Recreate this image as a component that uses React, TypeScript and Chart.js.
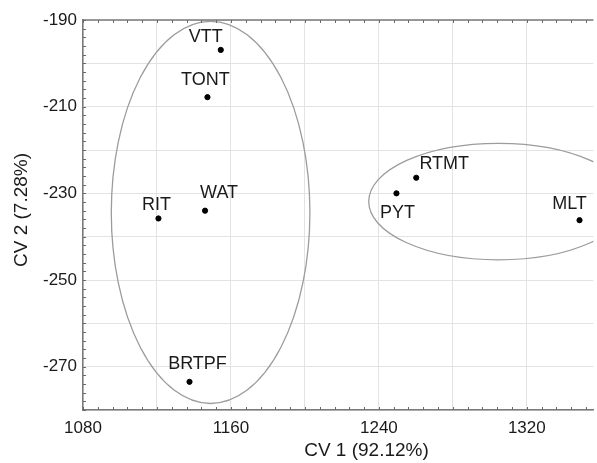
import React, { useEffect, useRef } from "react";
import { Chart, registerables } from "chart.js";

Chart.register(...registerables);

// ---- data ----
const names = ["VTT", "TONT", "WAT", "RIT", "BRTPF", "RTMT", "PYT", "MLT"];
const cv1 = [1154.5, 1147.3, 1146, 1120.8, 1137.6, 1260.2, 1249.5, 1348.5];
const cv2 = [-196.9, -207.8, -234, -235.8, -273.5, -226.4, -230, -236.2];

const xGridValues = [1080, 1120, 1160, 1200, 1240, 1280, 1320];
const xLabelValues = [1080, 1160, 1240, 1320];
const yGridValues = [-280, -270, -260, -250, -240, -230, -220, -210, -200, -190];
const yLabelValues = [-270, -250, -230, -210, -190];

// group ellipses (data units): centre x, centre y, radius x, radius y
const ellipseCX = [1149, 1304.7];
const ellipseCY = [-234.4, -231.9];
const ellipseRX = [53.7, 70.2];
const ellipseRY = [44.1, 13.45];

// ---- styling ----
const labelOffsets: [number, number][] = [
  [-15, -13],
  [-2, -17],
  [14, -18],
  [-2, -13],
  [8, -18],
  [28, -14],
  [1, 20],
  [-10, -16],
];

const FONT = "'Liberation Sans', Arial, sans-serif";

const decorPlugin = {
  id: "decor",
  beforeDatasetsDraw(chart: any) {
    const { ctx, chartArea } = chart;
    const xs = chart.scales.x;
    const ys = chart.scales.y;
    ctx.save();
    ctx.beginPath();
    ctx.rect(chartArea.left, chartArea.top, chartArea.right - chartArea.left, chartArea.bottom - chartArea.top);
    ctx.clip();
    ctx.strokeStyle = "#9c9c9c";
    ctx.lineWidth = 1.3;
    for (let i = 0; i < ellipseCX.length; i++) {
      const cx = xs.getPixelForValue(ellipseCX[i]);
      const cy = ys.getPixelForValue(ellipseCY[i]);
      const rx = Math.abs(xs.getPixelForValue(ellipseCX[i] + ellipseRX[i]) - cx);
      const ry = Math.abs(ys.getPixelForValue(ellipseCY[i] + ellipseRY[i]) - cy);
      ctx.beginPath();
      ctx.ellipse(cx, cy, rx, ry, 0, 0, Math.PI * 2);
      ctx.stroke();
    }
    ctx.restore();
  },
  afterDraw(chart: any) {
    const { ctx, chartArea } = chart;
    const xs = chart.scales.x;
    const ys = chart.scales.y;
    ctx.save();
    // top border
    ctx.strokeStyle = "#7a7a7a";
    ctx.lineWidth = 1.5;
    ctx.beginPath();
    ctx.moveTo(chartArea.left, chartArea.top);
    ctx.lineTo(chartArea.right, chartArea.top);
    ctx.stroke();
    // minor ticks
    ctx.lineWidth = 1;
    ctx.strokeStyle = "#6a6a6a";
    ctx.beginPath();
    for (let v = xs.min; v <= xs.max; v += 8) {
      const px = Math.round(xs.getPixelForValue(v)) + 0.5;
      ctx.moveTo(px, chartArea.bottom);
      ctx.lineTo(px, chartArea.bottom - 3);
      ctx.moveTo(px, chartArea.top);
      ctx.lineTo(px, chartArea.top + 3);
    }
    for (let v = ys.min; v <= ys.max + 0.001; v += 2) {
      const py = Math.round(ys.getPixelForValue(v)) + 0.5;
      ctx.moveTo(chartArea.left, py);
      ctx.lineTo(chartArea.left + 3, py);
    }
    ctx.stroke();

    // point labels
    ctx.fillStyle = "#1a1a1a";
    ctx.font = `18px ${FONT}`;
    ctx.textAlign = "center";
    ctx.textBaseline = "middle";
    for (let i = 0; i < names.length; i++) {
      const px = xs.getPixelForValue(cv1[i]) + labelOffsets[i][0];
      const py = ys.getPixelForValue(cv2[i]) + labelOffsets[i][1];
      ctx.fillText(names[i], px, py);
    }

    // axis titles
    ctx.font = `19px ${FONT}`;
    ctx.fillText("CV 1 (92.12%)", 366.5, 451);
    ctx.translate(22, 210);
    ctx.rotate(-Math.PI / 2);
    ctx.fillText("CV 2 (7.28%)", 0, 0);
    ctx.restore();
  },
};

export default function App() {
  const ref = useRef<HTMLCanvasElement>(null);
  useEffect(() => {
    document.body.style.margin = "0";
    const canvas = ref.current;
    if (!canvas) return;
    const chart = new Chart(canvas, {
      type: "scatter",
      data: {
        datasets: [
          {
            data: cv1.map((x, i) => ({ x, y: cv2[i] })),
            backgroundColor: "#000",
            borderColor: "#000",
            pointRadius: 2.6,
            pointHoverRadius: 2.6,
          },
        ],
      },
      options: {
        responsive: false,
        animation: false,
        events: [],
        layout: { padding: { top: 20, right: 0, left: 0, bottom: 0 } },
        plugins: { legend: { display: false }, tooltip: { enabled: false } },
        scales: {
          x: {
            type: "linear",
            min: 1080,
            max: 1356,
            afterBuildTicks: (s: any) => {
              s.ticks = xGridValues.map((v) => ({ value: v }));
            },
            afterFit: (s: any) => {
              s.height = 53;
            },
            grid: { color: "#e3e3e3", lineWidth: 1, drawTicks: false },
            border: { display: true, color: "#7a7a7a", width: 1.5 },
            ticks: {
              autoSkip: false,
              maxRotation: 0,
              padding: 8,
              color: "#1a1a1a",
              font: { family: FONT, size: 17 },
              callback: (v: any) => (xLabelValues.includes(Number(v)) ? String(v) : ""),
            },
          },
          y: {
            type: "linear",
            min: -280,
            max: -190,
            afterBuildTicks: (s: any) => {
              s.ticks = yGridValues.map((v) => ({ value: v }));
            },
            afterFit: (s: any) => {
              s.width = 83;
            },
            grid: { color: "#e3e3e3", lineWidth: 1, drawTicks: false },
            border: { display: true, color: "#7a7a7a", width: 1.5 },
            ticks: {
              autoSkip: false,
              padding: 6,
              color: "#1a1a1a",
              font: { family: FONT, size: 17 },
              callback: (v: any) => (yLabelValues.includes(Number(v)) ? String(v) : ""),
            },
          },
        },
      },
      plugins: [decorPlugin],
    });
    return () => chart.destroy();
  }, []);
  return <canvas ref={ref} width={597} height={463} style={{ display: "block" }} />;
}
